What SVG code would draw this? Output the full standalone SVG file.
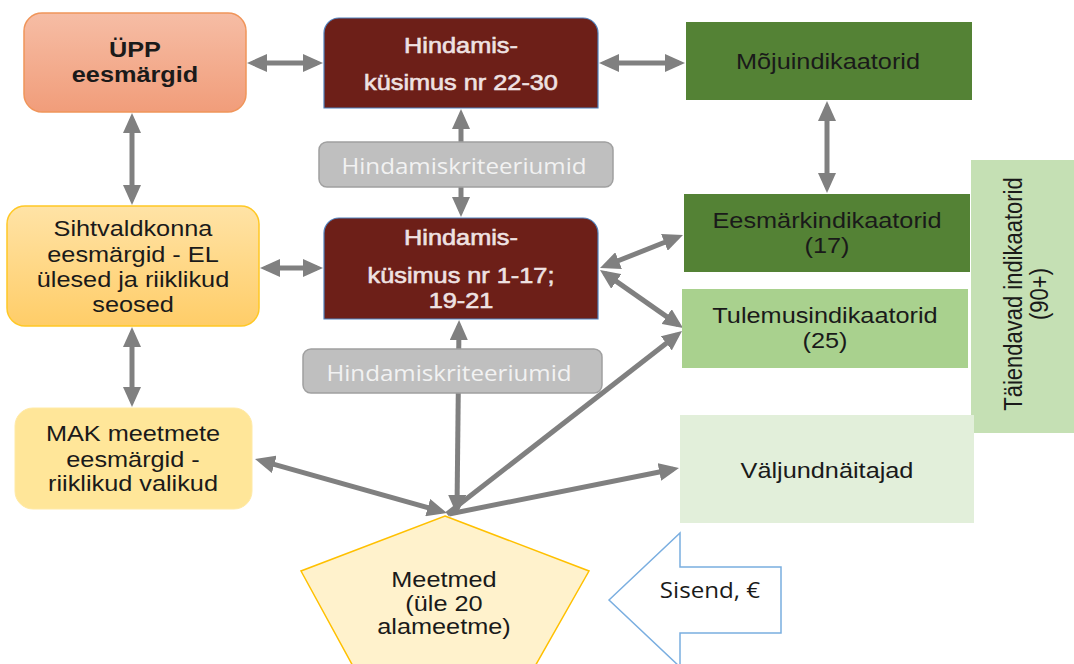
<svg xmlns="http://www.w3.org/2000/svg" width="1074" height="664" viewBox="0 0 1074 664">
<style>
.t{font-family:"Liberation Sans",Arial,sans-serif;font-size:22px;fill:#1a1a1a;text-anchor:middle;transform-box:fill-box;transform-origin:center;transform:scaleX(1.15)}
.b{font-weight:bold}
.w{fill:#efe2e2;stroke:#efe2e2;stroke-width:0.6}
.k{font-family:"Open Sans","Liberation Sans",sans-serif;font-size:21px;fill:#f2f2f2;text-anchor:middle;transform-box:fill-box;transform-origin:center;transform:scaleX(1.15)}
.c line{stroke:#808080;stroke-width:5}
.hq{fill:#6d1f18;stroke:#4f81bd;stroke-width:1.2}
.gb{fill:#bfbfbf;stroke:#a0a0a0;stroke-width:1.5}
</style>
<defs>
<marker id="ah" viewBox="0 0 20 18" markerWidth="20" markerHeight="18" refX="14" refY="9" orient="auto-start-reverse" markerUnits="userSpaceOnUse">
<path d="M0,0 L20,9 L0,18 Z" fill="#808080"/>
</marker>
<linearGradient id="gU" x1="0" y1="0" x2="0" y2="1"><stop offset="0" stop-color="#f6bda5"/><stop offset="1" stop-color="#f19d7a"/></linearGradient>
<linearGradient id="gS" x1="0" y1="0" x2="0" y2="1"><stop offset="0" stop-color="#ffe3a6"/><stop offset="1" stop-color="#ffcd68"/></linearGradient>
</defs>
<rect width="1074" height="664" fill="#ffffff"/>

<g id="connectors" class="c">
<line x1="253" y1="63" x2="317" y2="63" marker-start="url(#ah)" marker-end="url(#ah)"/>
<line x1="605" y1="63" x2="679" y2="63" marker-start="url(#ah)" marker-end="url(#ah)"/>
<line x1="132" y1="119" x2="132" y2="199" marker-start="url(#ah)" marker-end="url(#ah)"/>
<line x1="461" y1="115" x2="461" y2="211" marker-start="url(#ah)" marker-end="url(#ah)"/>
<line x1="827" y1="107" x2="827" y2="187" marker-start="url(#ah)" marker-end="url(#ah)"/>
<line x1="266" y1="268" x2="317" y2="268" marker-start="url(#ah)" marker-end="url(#ah)"/>
<line x1="605.6" y1="265.8" x2="677.4" y2="237.2" marker-start="url(#ah)" marker-end="url(#ah)"/>
<line x1="604.9" y1="273.4" x2="678.1" y2="324.6" marker-start="url(#ah)" marker-end="url(#ah)"/>
<line x1="132" y1="333" x2="132" y2="401" marker-start="url(#ah)" marker-end="url(#ah)"/>
<line x1="459" y1="326" x2="457" y2="509" marker-start="url(#ah)" marker-end="url(#ah)"/>
<line x1="260.8" y1="460.6" x2="441.2" y2="511.4" marker-start="url(#ah)" marker-end="url(#ah)"/>
<line x1="447" y1="514" x2="677.3" y2="334.7" marker-end="url(#ah)"/>
<line x1="449" y1="514" x2="673.1" y2="469.2" marker-end="url(#ah)"/>
</g>

<g id="upp">
<rect x="24" y="13" width="222" height="99" rx="18" fill="url(#gU)" stroke="#f0955a" stroke-width="1.5"/>
<text class="t b" x="135" y="57">ÜPP</text>
<text class="t b" x="135" y="82">eesmärgid</text>
</g>

<g id="hindamis-22-30">
<path class="hq" d="M324,108 V33 A15,15 0 0 1 339,18 H583 A15,15 0 0 1 598,33 V108 Z"/>
<text class="t w" x="461" y="53">Hindamis-</text>
<text class="t w" x="461" y="90">küsimus nr 22-30</text>
</g>

<g id="kriteeriumid-1">
<rect class="gb" x="319" y="142" width="294" height="45" rx="8"/>
<text class="k" x="464" y="174">Hindamiskriteeriumid</text>
</g>

<g id="mojuindikaatorid">
<rect x="686" y="22" width="286" height="78" fill="#548235"/>
<text class="t" x="828" y="69">Mõjuindikaatorid</text>
</g>

<g id="taiendavad">
<rect x="971" y="160" width="103" height="273" fill="#c5e0b4"/>
<g transform="translate(1022,294) rotate(-90) scale(1,1.15)">
<text x="0" y="0" font-family="Liberation Sans, Arial, sans-serif" font-size="22" fill="#1a1a1a" text-anchor="middle">Täiendavad indikaatorid</text>
<text x="0" y="23" font-family="Liberation Sans, Arial, sans-serif" font-size="22" fill="#1a1a1a" text-anchor="middle">(90+)</text>
</g>
</g>

<g id="eesmarkindikaatorid">
<rect x="684" y="194" width="286" height="78" fill="#548235"/>
<text class="t" x="827" y="228">Eesmärkindikaatorid</text>
<text class="t" x="827" y="253">(17)</text>
</g>

<g id="sihtvaldkonna">
<rect x="7" y="206" width="252" height="120" rx="18" fill="url(#gS)" stroke="#ffc825" stroke-width="1.5"/>
<text class="t" x="133" y="236">Sihtvaldkonna</text>
<text class="t" x="133" y="262">eesmärgid - EL</text>
<text class="t" x="133" y="287">ülesed ja riiklikud</text>
<text class="t" x="133" y="312">seosed</text>
</g>

<g id="hindamis-1-17">
<path class="hq" d="M324,319 V233 A15,15 0 0 1 339,218 H583 A15,15 0 0 1 598,233 V319 Z"/>
<text class="t w" x="461" y="245">Hindamis-</text>
<text class="t w" x="461" y="283">küsimus nr 1-17;</text>
<text class="t w" x="461" y="308">19-21</text>
</g>

<g id="tulemusindikaatorid">
<rect x="682" y="289" width="286" height="79" fill="#a9d18e"/>
<text class="t" x="825" y="323">Tulemusindikaatorid</text>
<text class="t" x="825" y="348">(25)</text>
</g>

<g id="kriteeriumid-2">
<rect class="gb" x="303" y="349" width="299" height="44" rx="8"/>
<text class="k" x="449" y="381">Hindamiskriteeriumid</text>
</g>

<g id="mak">
<rect x="15" y="408" width="237" height="101" rx="18" fill="#ffe699" stroke="#ffeaa6" stroke-width="1"/>
<text class="t" x="133" y="441">MAK meetmete</text>
<text class="t" x="133" y="467">eesmärgid -</text>
<text class="t" x="133" y="491">riiklikud valikud</text>
</g>

<g id="valjundnaitajad">
<rect x="680" y="415" width="294" height="108" fill="#e2efda"/>
<text class="t" x="827" y="478">Väljundnäitajad</text>
</g>

<g id="meetmed">
<polygon points="445,516 589,571 534,668 354,668 301,571" fill="#fff2cc" stroke="#ffc000" stroke-width="1.5"/>
<text class="t" x="444" y="587" font-size="21">Meetmed</text>
<text class="t" x="444" y="611" font-size="21">(üle 20</text>
<text class="t" x="444" y="634" font-size="21">alameetme)</text>
</g>

<g id="sisend">
<polygon points="609,600 680,533 680,567 781,567 781,633 680,633 680,667" fill="#ffffff" stroke="#7aaee0" stroke-width="1.5"/>
<text class="k" x="710" y="598" font-size="20" style="fill:#1a1a1a">Sisend, €</text>
</g>
</svg>
